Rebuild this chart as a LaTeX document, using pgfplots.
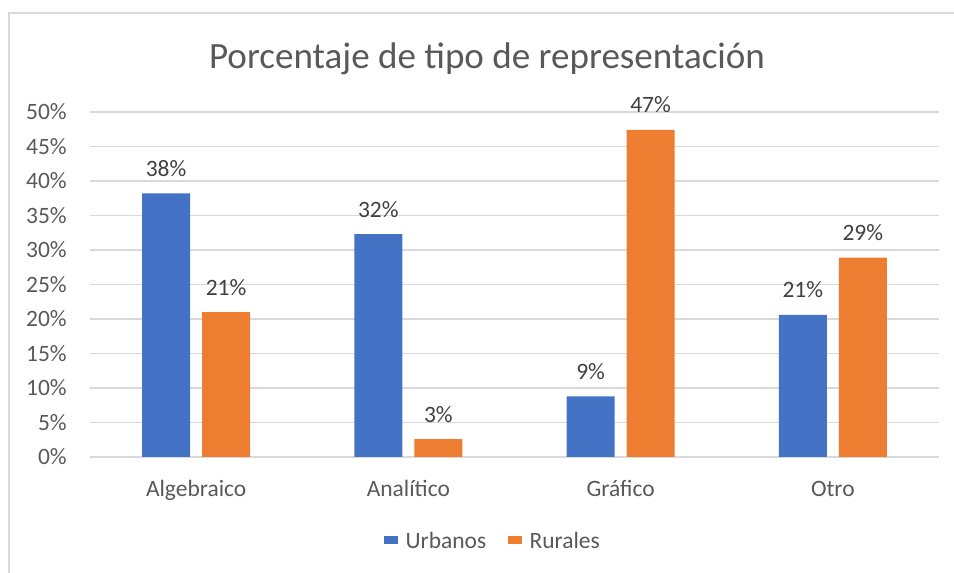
\documentclass[border=0pt]{standalone}
\usepackage{fontspec}
\setmainfont{Carlito}
\usepackage{pgfplots}
\pgfplotsset{compat=1.18}
\definecolor{cblue}{HTML}{4472C4}
\definecolor{corange}{HTML}{ED7D31}
\definecolor{cgrid}{HTML}{D9D9D9}
\definecolor{ctext}{HTML}{595959}
\definecolor{clabel}{HTML}{404040}
\begin{document}
\begin{tikzpicture}
\path[use as bounding box] (0pt,0pt) rectangle (715.5pt,429.75pt);
\draw[cgrid,line width=1.2pt] (6.75pt,0pt) -- (6.75pt,420pt) -- (715.5pt,420pt);
\node[font=\fontsize{27.8pt}{30pt}\selectfont,text=ctext] at (365.25pt,385.5pt) {Porcentaje de tipo de representación};
\begin{axis}[
  at={(67.5pt,87pt)}, anchor=south west,
  scale only axis,
  width=636.75pt, height=258.75pt,
  ybar=9pt, bar width=36pt,
  xmin=-0.5, xmax=3.5,
  ymin=0, ymax=50,
  ytick={0,5,...,50},
  xtick=data,
  xticklabels={Algebraico,Analítico,Gráfico,Otro},
  axis line style={draw=none},
  major tick length=0pt,
  ymajorgrids,
  grid style={cgrid,line width=1.3pt},
  /pgf/number format/assume math mode=true,
  yticklabel={\pgfmathprintnumber{\tick}\%},
  yticklabel style={anchor=east,inner sep=0pt,xshift=-17.25pt,font=\fontsize{17.6pt}{20pt}\selectfont,text=ctext},
  xticklabel style={anchor=base,inner sep=0pt,yshift=-30pt,font=\fontsize{17.6pt}{20pt}\selectfont,text=ctext},
  nodes near coords={\pgfmathprintnumber[fixed,precision=0]{\pgfplotspointmeta}\%},
  nodes near coords style={anchor=base,inner sep=0pt,yshift=12.75pt,font=\fontsize{17.6pt}{20pt}\selectfont,text=clabel},
  legend style={at={(0.4747,-0.2435)},anchor=center,draw=none,fill=none,
    font=\fontsize{17.6pt}{20pt}\selectfont,text=ctext,
    /tikz/every even column/.append style={column sep=14pt}},
  legend columns=-1,
  legend image code/.code={\fill[#1] (0pt,-0.22em) rectangle (10.5pt,0.375em); \path (14.5pt,0pt);},
]
\addplot[fill=cblue,draw=none] coordinates {(0,38.2) (1,32.3) (2,8.8) (3,20.6)};
\addplot[fill=corange,draw=none] coordinates {(0,21.0) (1,2.6) (2,47.4) (3,28.9)};
\legend{Urbanos,Rurales}
\end{axis}
\end{tikzpicture}
\end{document}
